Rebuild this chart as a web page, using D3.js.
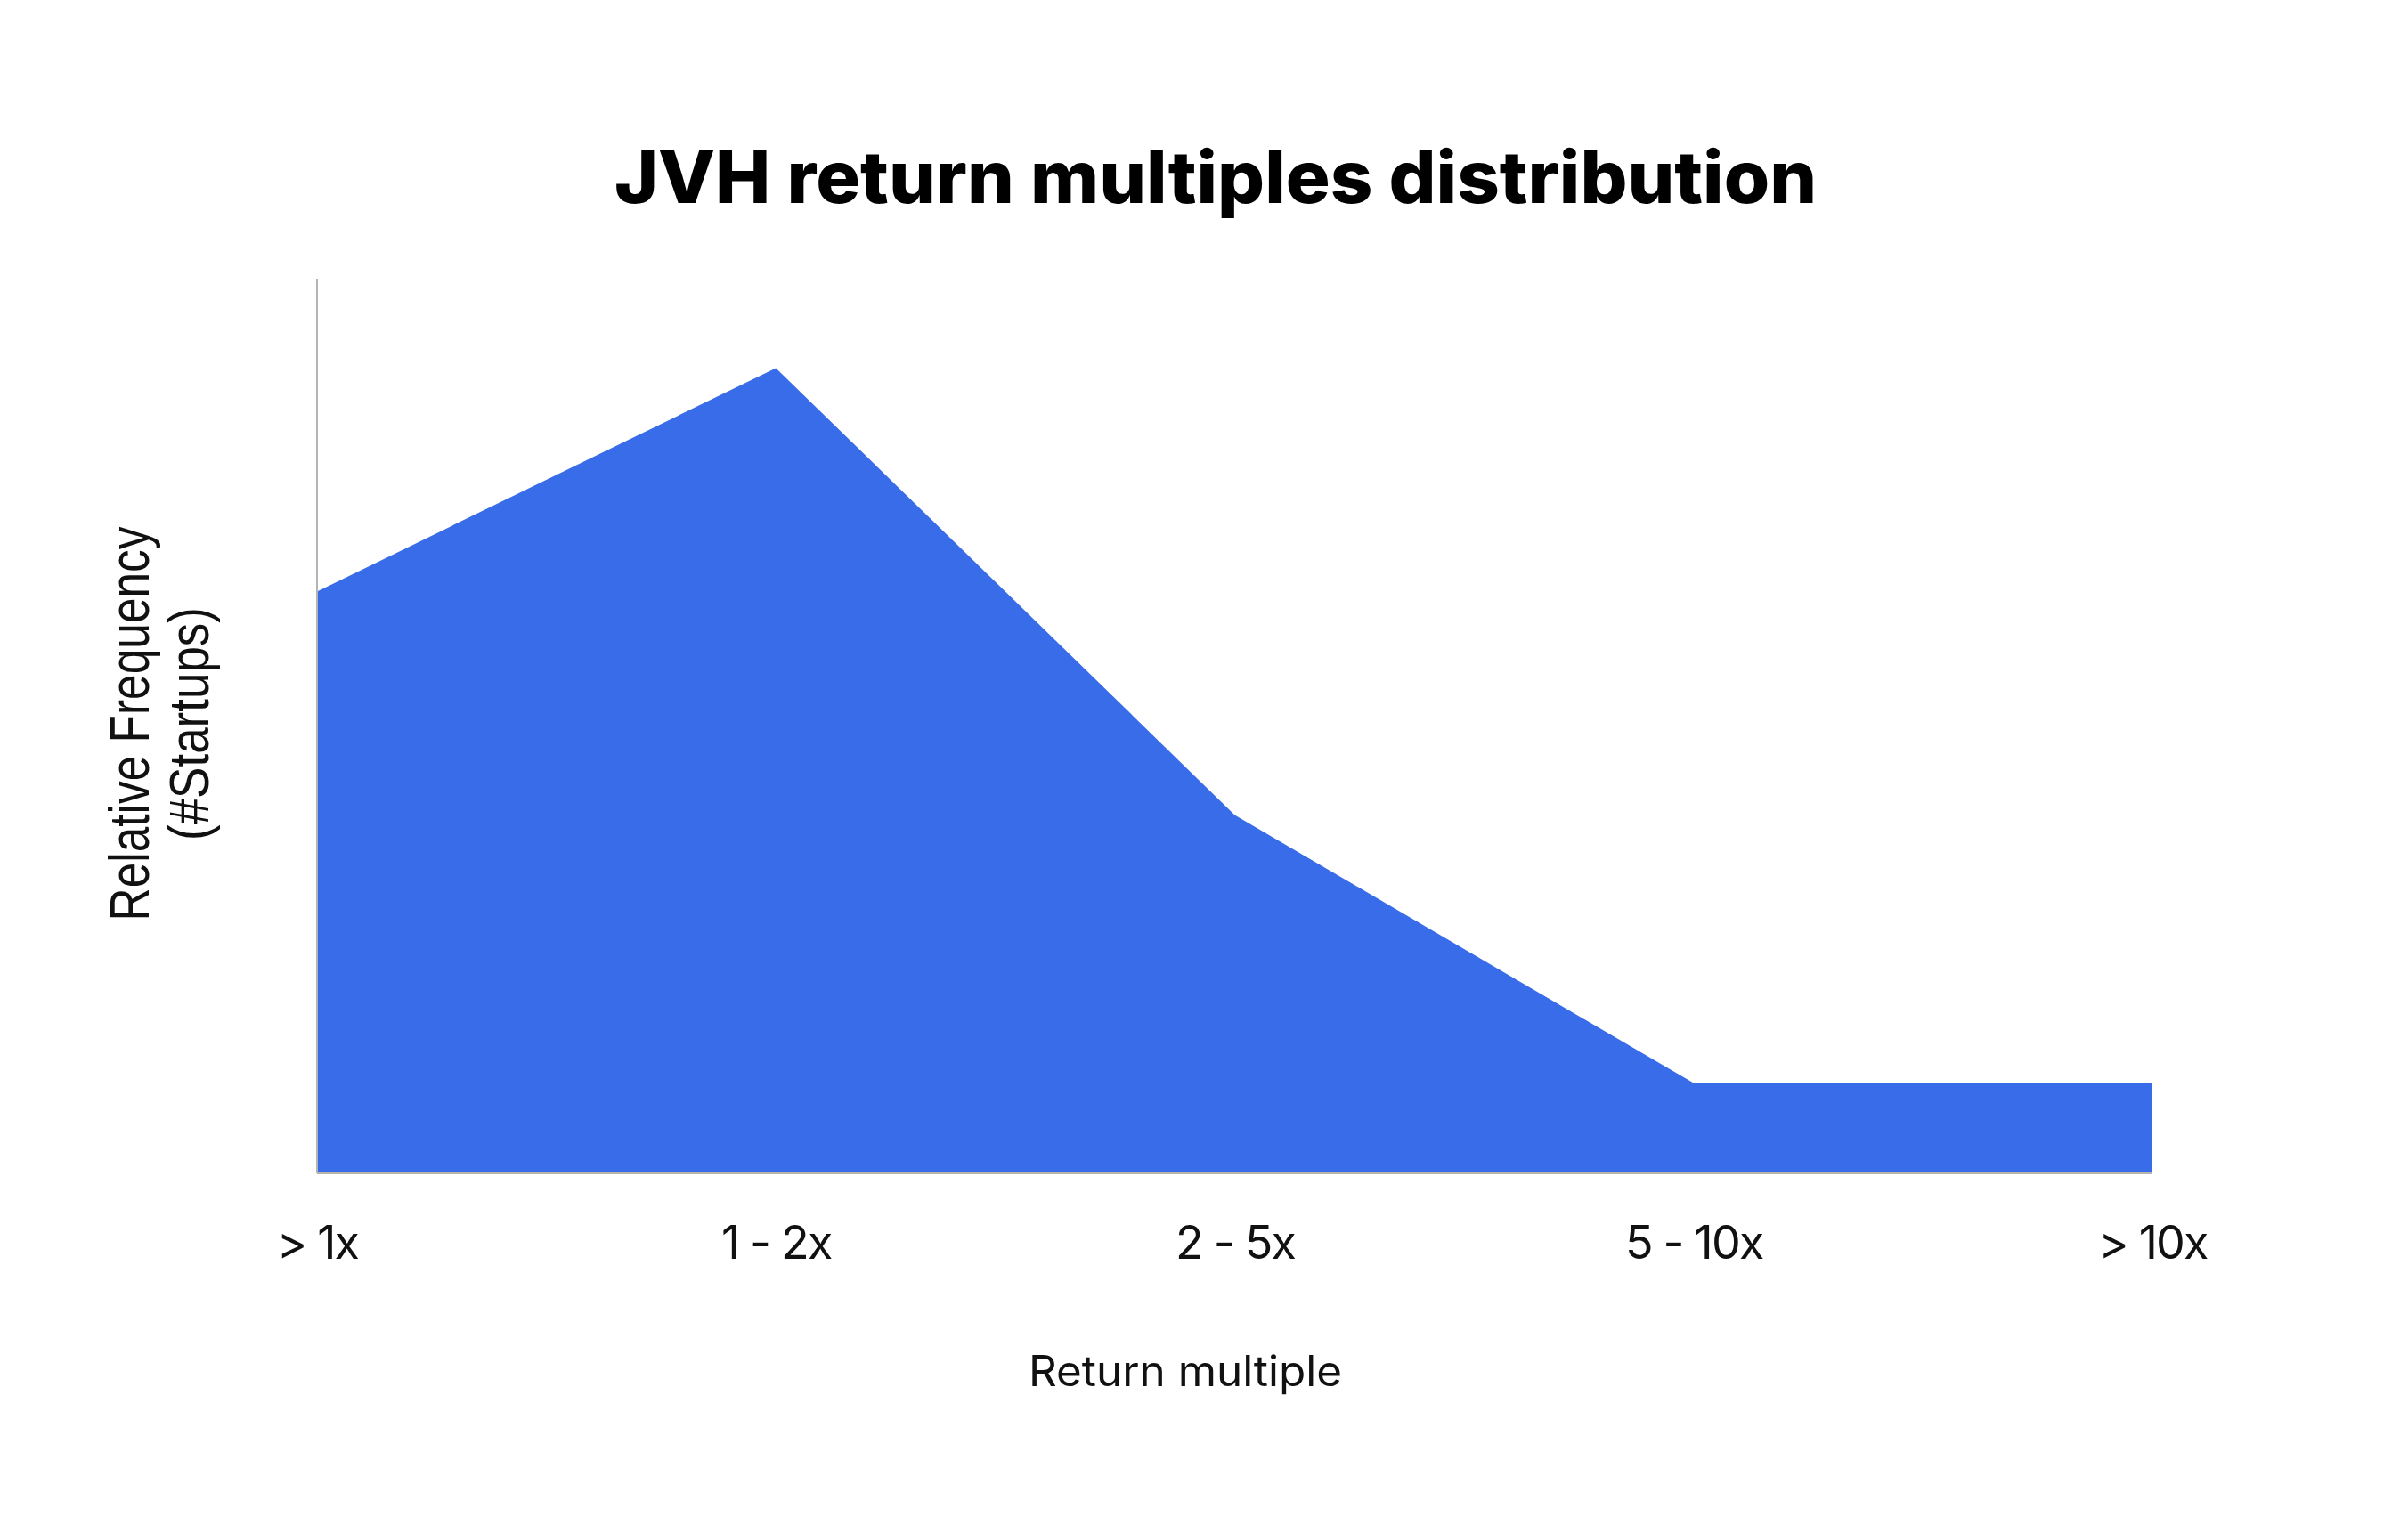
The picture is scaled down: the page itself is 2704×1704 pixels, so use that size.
<!DOCTYPE html>
<html>
<head>
<meta charset="utf-8">
<script src="https://cdn.jsdelivr.net/npm/d3@7"></script>
<style>
  html, body { margin: 0; padding: 0; background: #ffffff; }
  svg { display: block; }
</style>
</head>
<body>
<svg id="chart" width="2704" height="1704"></svg>
<script>
// ---- data ----
const categories = ["> 1x", "1 - 2x", "2 - 5x", "5 - 10x", "> 10x"];
const frequency = [65, 90, 40, 10, 10];
const titleText = "JVH return multiples distribution";
const xTitle = "Return multiple";
const yTitleLines = ["Relative Frequency", "(#Startups)"];

// ---- layout ----
const W = 2704, H = 1704;
const margin = { left: 356, right: W - 2417, top: 313, bottom: H - 1317 };
const svg = d3.select("#chart");

const x = d3.scalePoint().domain(categories).range([margin.left, W - margin.right]);
const y = d3.scaleLinear().domain([0, 100]).range([H - margin.bottom, margin.top]);

const rows = categories.map((c, i) => ({ c, v: frequency[i] }));

// area
const area = d3.area()
  .x(d => x(d.c))
  .y0(y(0))
  .y1(d => y(d.v))
  .curve(d3.curveLinear);

svg.append("path")
  .datum(rows)
  .attr("d", area)
  .attr("fill", "#396ce8");

// x axis baseline
svg.append("line")
  .attr("x1", x.range()[0]).attr("x2", x.range()[1])
  .attr("y1", y(0) + 1).attr("y2", y(0) + 1)
  .attr("stroke", "#b8b4ac").attr("stroke-width", 2);

// y axis line
svg.append("line")
  .attr("x1", margin.left).attr("x2", margin.left)
  .attr("y1", y(100)).attr("y2", y(0) + 1)
  .attr("stroke", "#b4b4b4").attr("stroke-width", 2);

// x axis tick labels via d3 axis
const xAxis = d3.axisBottom(x).tickSize(0).tickPadding(0);
const gx = svg.append("g")
  .attr("transform", `translate(0,${y(0)})`)
  .call(xAxis);
gx.select(".domain").remove();
gx.selectAll("text")
  .attr("y", 97)
  .attr("dy", 0)
  .attr("font-family", "Inter, 'Noto Sans', sans-serif")
  .attr("font-size", 52)
  .attr("letter-spacing", -1.8)
  .attr("font-weight", 400)
  .attr("fill", "#111");

// title
svg.append("text")
  .attr("x", 1365).attr("y", 228)
  .attr("text-anchor", "middle")
  .attr("font-family", "Inter, 'Noto Sans', sans-serif")
  .attr("font-weight", 800)
  .attr("font-size", 81)
  .attr("textLength", 1350)
  .attr("lengthAdjust", "spacingAndGlyphs")
  .attr("fill", "#000")
  .text(titleText);

// x axis title
svg.append("text")
  .attr("x", 1331).attr("y", 1557)
  .attr("text-anchor", "middle")
  .attr("font-family", "Inter, 'Noto Sans', sans-serif")
  .attr("font-size", 48)
  .attr("textLength", 352)
  .attr("lengthAdjust", "spacingAndGlyphs")
  .attr("fill", "#111")
  .text(xTitle);

// y axis title (two lines, rotated)
const yt = svg.append("g").attr("transform", "translate(0,813) rotate(-90)");
const yLineX = [167, 234];
const yLineLen = [443, 262];
yTitleLines.forEach((t, i) => {
  yt.append("text")
    .attr("x", 0).attr("y", yLineX[i])
    .attr("text-anchor", "middle")
    .attr("font-family", "'Liberation Sans', Arial, sans-serif")
    .attr("font-size", 63)
    .attr("textLength", yLineLen[i])
    .attr("lengthAdjust", "spacingAndGlyphs")
    .attr("fill", "#111")
    .text(t);
});
</script>
</body>
</html>
